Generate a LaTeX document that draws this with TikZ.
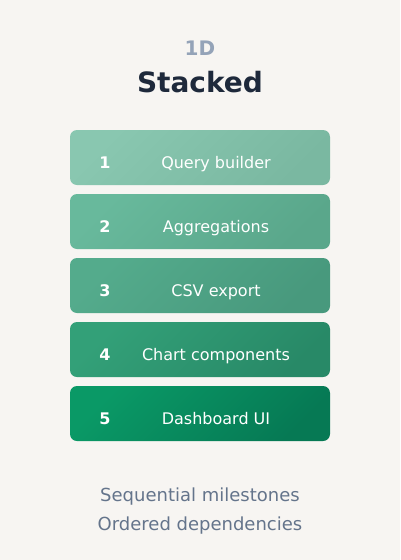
\documentclass[tikz,border=0pt]{standalone}
\usepackage{fontspec}
\setmainfont{DejaVu Sans}
\usepackage{tikz}

\definecolor{paper}{HTML}{F7F5F2}
\definecolor{tagc}{HTML}{94A3B8}
\definecolor{titlec}{HTML}{1E293B}
\definecolor{notec}{HTML}{64748B}
\definecolor{stepa}{HTML}{89C7B0}
\definecolor{stepaa}{HTML}{7AB8A1}
\definecolor{stepb}{HTML}{68B99C}
\definecolor{stepbb}{HTML}{5AA78B}
\definecolor{stepc}{HTML}{54AB8C}
\definecolor{stepcc}{HTML}{48997D}
\definecolor{stepd}{HTML}{33A078}
\definecolor{stepdd}{HTML}{288967}
\definecolor{stepe}{HTML}{0A9966}
\definecolor{stepee}{HTML}{067954}

\begin{document}
\begin{tikzpicture}[x=1pt,y=1pt,
    stage/.style={rounded corners=7pt, minimum width=260pt, minimum height=55pt, inner sep=0pt},
    num/.style={anchor=base, text=white, font=\fontsize{16}{19}\selectfont\bfseries},
    lbl/.style={anchor=base, text=white, font=\fontsize{16}{19}\selectfont},
    note/.style={anchor=base, text=notec, font=\fontsize{18}{21}\selectfont}]
    \fill[paper] (0,0) rectangle (400,-560);
    \useasboundingbox (0,0) rectangle (400,-560);

    % heading
    \node[anchor=base, text=tagc, font=\fontsize{20}{24}\selectfont\bfseries] (tag) at (200,-55.5) {1D};
    \node[anchor=base, text=titlec, font=\fontsize{28}{32}\selectfont\bfseries] (title) at (200,-92) {Stacked};

    % milestones
    \node[stage, top color=stepa, bottom color=stepaa, shading angle=45] (s1) at (200,-157.5) {};
    \node[num] (n1) at (105,-168.5) {1};
    \node[lbl] (t1) at (216,-168.5) {Query builder};

    \node[stage, top color=stepb, bottom color=stepbb, shading angle=45] (s2) at (200,-221.5) {};
    \node[num] (n2) at (105,-232.5) {2};
    \node[lbl] (t2) at (216,-232.5) {Aggregations};

    \node[stage, top color=stepc, bottom color=stepcc, shading angle=45] (s3) at (200,-285.5) {};
    \node[num] (n3) at (105,-296.5) {3};
    \node[lbl] (t3) at (216,-296.5) {CSV export};

    \node[stage, top color=stepd, bottom color=stepdd, shading angle=45] (s4) at (200,-349.5) {};
    \node[num] (n4) at (105,-360.5) {4};
    \node[lbl] (t4) at (216,-360.5) {Chart components};

    \node[stage, top color=stepe, bottom color=stepee, shading angle=45] (s5) at (200,-413.5) {};
    \node[num] (n5) at (105,-424.5) {5};
    \node[lbl] (t5) at (216,-424.5) {Dashboard UI};

    % footer
    \node[note] (f1) at (200,-501) {Sequential milestones};
    \node[note] (f2) at (200,-530) {Ordered dependencies};
\end{tikzpicture}
\end{document}
